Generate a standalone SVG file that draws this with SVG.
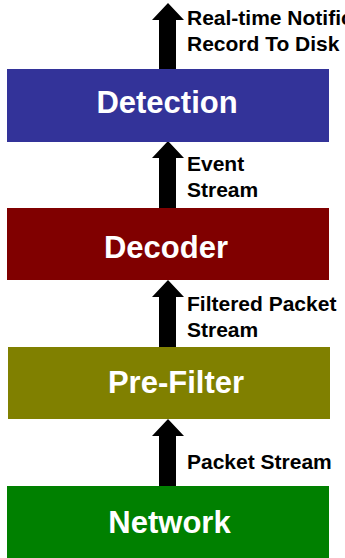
<svg xmlns="http://www.w3.org/2000/svg" width="345" height="558" viewBox="0 0 345 558">
<style>
.nt{font-family:"Liberation Sans",Arial,sans-serif;font-weight:bold;font-size:31px;fill:#ffffff;text-anchor:middle}
.lb{font-family:"Liberation Sans",Arial,sans-serif;font-weight:bold;font-size:21px;fill:#000000}
.ar{fill:#000000}
</style>
<rect width="345" height="558" fill="#ffffff"/>
<g id="connectors">
<polygon class="ar" points="168,3 184,20 176,20 176,69 159,69 159,20 152,20"/>
<polygon class="ar" points="168,141 184,158 176,158 176,208 159,208 159,158 152,158"/>
<polygon class="ar" points="168,280 184,297 176,297 176,347 159,347 159,297 152,297"/>
<polygon class="ar" points="168,419 184,436 176,436 176,486 159,486 159,436 152,436"/>
<text class="lb" x="187" y="25">Real-time Notific</text>
<text class="lb" x="187" y="51">Record To Disk</text>
<text class="lb" x="187" y="170.5">Event</text>
<text class="lb" x="187" y="196.5">Stream</text>
<text class="lb" x="187" y="310.5">Filtered Packet</text>
<text class="lb" x="187" y="336.5">Stream</text>
<text class="lb" x="187" y="469">Packet Stream</text>
</g>
<g id="detection">
<rect x="7" y="69" width="322" height="73" fill="#333399"/>
<text class="nt" x="167" y="113">Detection</text>
</g>
<g id="decoder">
<rect x="7" y="208" width="322" height="72" fill="#800000"/>
<text class="nt" x="166" y="258">Decoder</text>
</g>
<g id="prefilter">
<rect x="8" y="347" width="322" height="72" fill="#808000"/>
<text class="nt" x="176" y="393">Pre-Filter</text>
</g>
<g id="network">
<rect x="7" y="486" width="322" height="72" fill="#008000"/>
<text class="nt" x="169.5" y="533">Network</text>
</g>
</svg>
